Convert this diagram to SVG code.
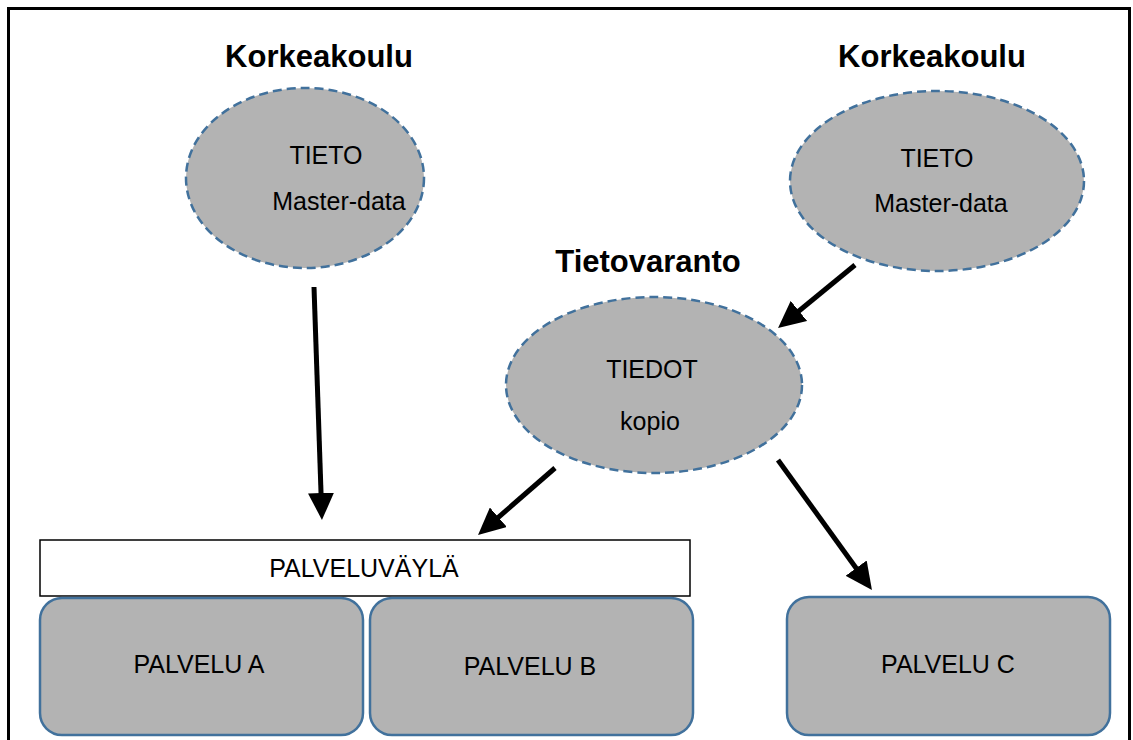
<svg xmlns="http://www.w3.org/2000/svg" width="1133" height="740" viewBox="0 0 1133 740">
  <style>
    .title { font-family: "Liberation Sans", Arial, sans-serif; font-weight: bold; font-size: 31px; fill: #000; text-anchor: middle; }
    .lbl { font-family: "Liberation Sans", Arial, sans-serif; font-size: 25px; fill: #000; text-anchor: middle; }
    .oval { fill: #b3b3b3; stroke: #41719c; stroke-width: 2.5; stroke-dasharray: 9 5; }
    .svc { fill: #b3b3b3; stroke: #41719c; stroke-width: 2.5; }
    .bus { fill: #fff; stroke: #000; stroke-width: 1.5; }
    .conn { stroke: #000; stroke-width: 5; fill: none; marker-end: url(#head); }
  </style>
  <defs>
    <marker id="head" viewBox="0 -13 27 26" refX="2" refY="0" markerWidth="27" markerHeight="26" markerUnits="userSpaceOnUse" orient="auto">
      <path d="M0,-13 L27,0 L0,13 Z" fill="#000"/>
    </marker>
  </defs>

  <rect width="1133" height="740" fill="#fff"/>
  <!-- frame -->
  <rect x="8.5" y="8.5" width="1121" height="780" fill="none" stroke="#000" stroke-width="3"/>

  <!-- headings -->
  <text class="title" x="319" y="67">Korkeakoulu</text>
  <text class="title" x="932" y="67">Korkeakoulu</text>
  <text class="title" x="648" y="272">Tietovaranto</text>

  <g id="master1">
    <ellipse class="oval" cx="305" cy="178" rx="119" ry="90"/>
    <text class="lbl" x="326" y="164">TIETO</text>
    <text class="lbl" x="339" y="210">Master-data</text>
  </g>

  <g id="master2">
    <ellipse class="oval" cx="937" cy="181" rx="147" ry="90"/>
    <text class="lbl" x="937" y="167">TIETO</text>
    <text class="lbl" x="941" y="212">Master-data</text>
  </g>

  <g id="tietovaranto">
    <ellipse class="oval" cx="654" cy="385" rx="148" ry="88"/>
    <text class="lbl" x="652" y="378">TIEDOT</text>
    <text class="lbl" x="650" y="430">kopio</text>
  </g>

  <g id="palveluvayla">
    <rect class="bus" x="40" y="540" width="650" height="56"/>
    <text class="lbl" x="364" y="577">PALVELUVÄYLÄ</text>
  </g>

  <g id="palvelu-a">
    <rect class="svc" x="40" y="598" width="323" height="137" rx="22" ry="22"/>
    <text class="lbl" x="199" y="673">PALVELU A</text>
  </g>

  <g id="palvelu-b">
    <rect class="svc" x="370" y="598" width="323" height="137" rx="22" ry="22"/>
    <text class="lbl" x="530" y="675">PALVELU B</text>
  </g>

  <g id="palvelu-c">
    <rect class="svc" x="787" y="597" width="323" height="138" rx="22" ry="22"/>
    <text class="lbl" x="948" y="673">PALVELU C</text>
  </g>

  <g id="connectors">
    <line class="conn" x1="314" y1="287" x2="321.1" y2="495"/>
    <line class="conn" x1="855" y1="265" x2="797.4" y2="312.2"/>
    <line class="conn" x1="555" y1="468" x2="496.9" y2="518.6"/>
    <line class="conn" x1="778" y1="460" x2="857.3" y2="569.7"/>
  </g>
</svg>
